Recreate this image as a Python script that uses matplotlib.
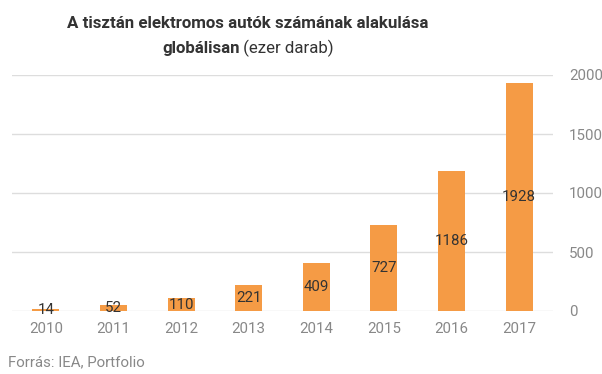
import matplotlib
matplotlib.use("Agg")
import matplotlib.pyplot as plt

years = ["2010", "2011", "2012", "2013", "2014", "2015", "2016", "2017"]
values = [14, 52, 110, 221, 409, 727, 1186, 1928]
yticks = [0, 500, 1000, 1500, 2000]

plt.rcParams['font.family'] = ['Roboto', 'DejaVu Sans']

fig = plt.figure(figsize=(6.02, 3.74), dpi=100)
ax = fig.add_axes([12 / 602, 1 - 311 / 374, (553 - 12) / 602, (311 - 75) / 374])

x = range(len(years))
ax.bar(x, values, width=0.4, color="#F59B45", zorder=2)
for i, v in zip(x, values):
    ax.text(i, v / 2, str(v), ha="center", va="center", fontsize=10.8, color="#333333", zorder=3)

ax.set_xlim(-0.5, len(years) - 0.5)
ax.set_ylim(0, 2000)
ax.set_yticks(yticks)
ax.set_xticks(list(x))
ax.set_xticklabels(years)
ax.yaxis.tick_right()
ax.tick_params(axis="y", length=0, pad=11.5, labelsize=10.8, labelcolor="#888888")
ax.tick_params(axis="x", length=0, pad=8, labelsize=10.8, labelcolor="#888888")
for lab in ax.get_yticklabels():
    lab.set_horizontalalignment("left")
ax.grid(axis="y", color="#dddddd", linewidth=1, zorder=0)
for s in ax.spines.values():
    s.set_visible(False)

# title
fig.text(248 / 602, 1 - 23 / 374, "A tisztán elektromos autók számának alakulása",
         ha="center", va="center", fontsize=12.2, fontweight="bold", color="#333333")
renderer = fig.canvas.get_renderer()
t1 = fig.text(0, 1 - 48 / 374, "globálisan", ha="left", va="center",
              fontsize=12.2, fontweight="bold", color="#333333")
t2 = fig.text(0, 1 - 48 / 374, " (ezer darab)", ha="left", va="center",
              fontsize=12.2, color="#333333")
w1 = t1.get_window_extent(renderer).width
w2 = t2.get_window_extent(renderer).width
start = 248 - (w1 + w2) / 2
t1.set_x(start / 602)
t2.set_x((start + w1) / 602)

fig.text(8 / 602, 1 - 362 / 374, "Forrás: IEA, Portfolio", ha="left", va="center",
         fontsize=10.8, color="#888888")

fig.savefig("out.png", dpi=100)
